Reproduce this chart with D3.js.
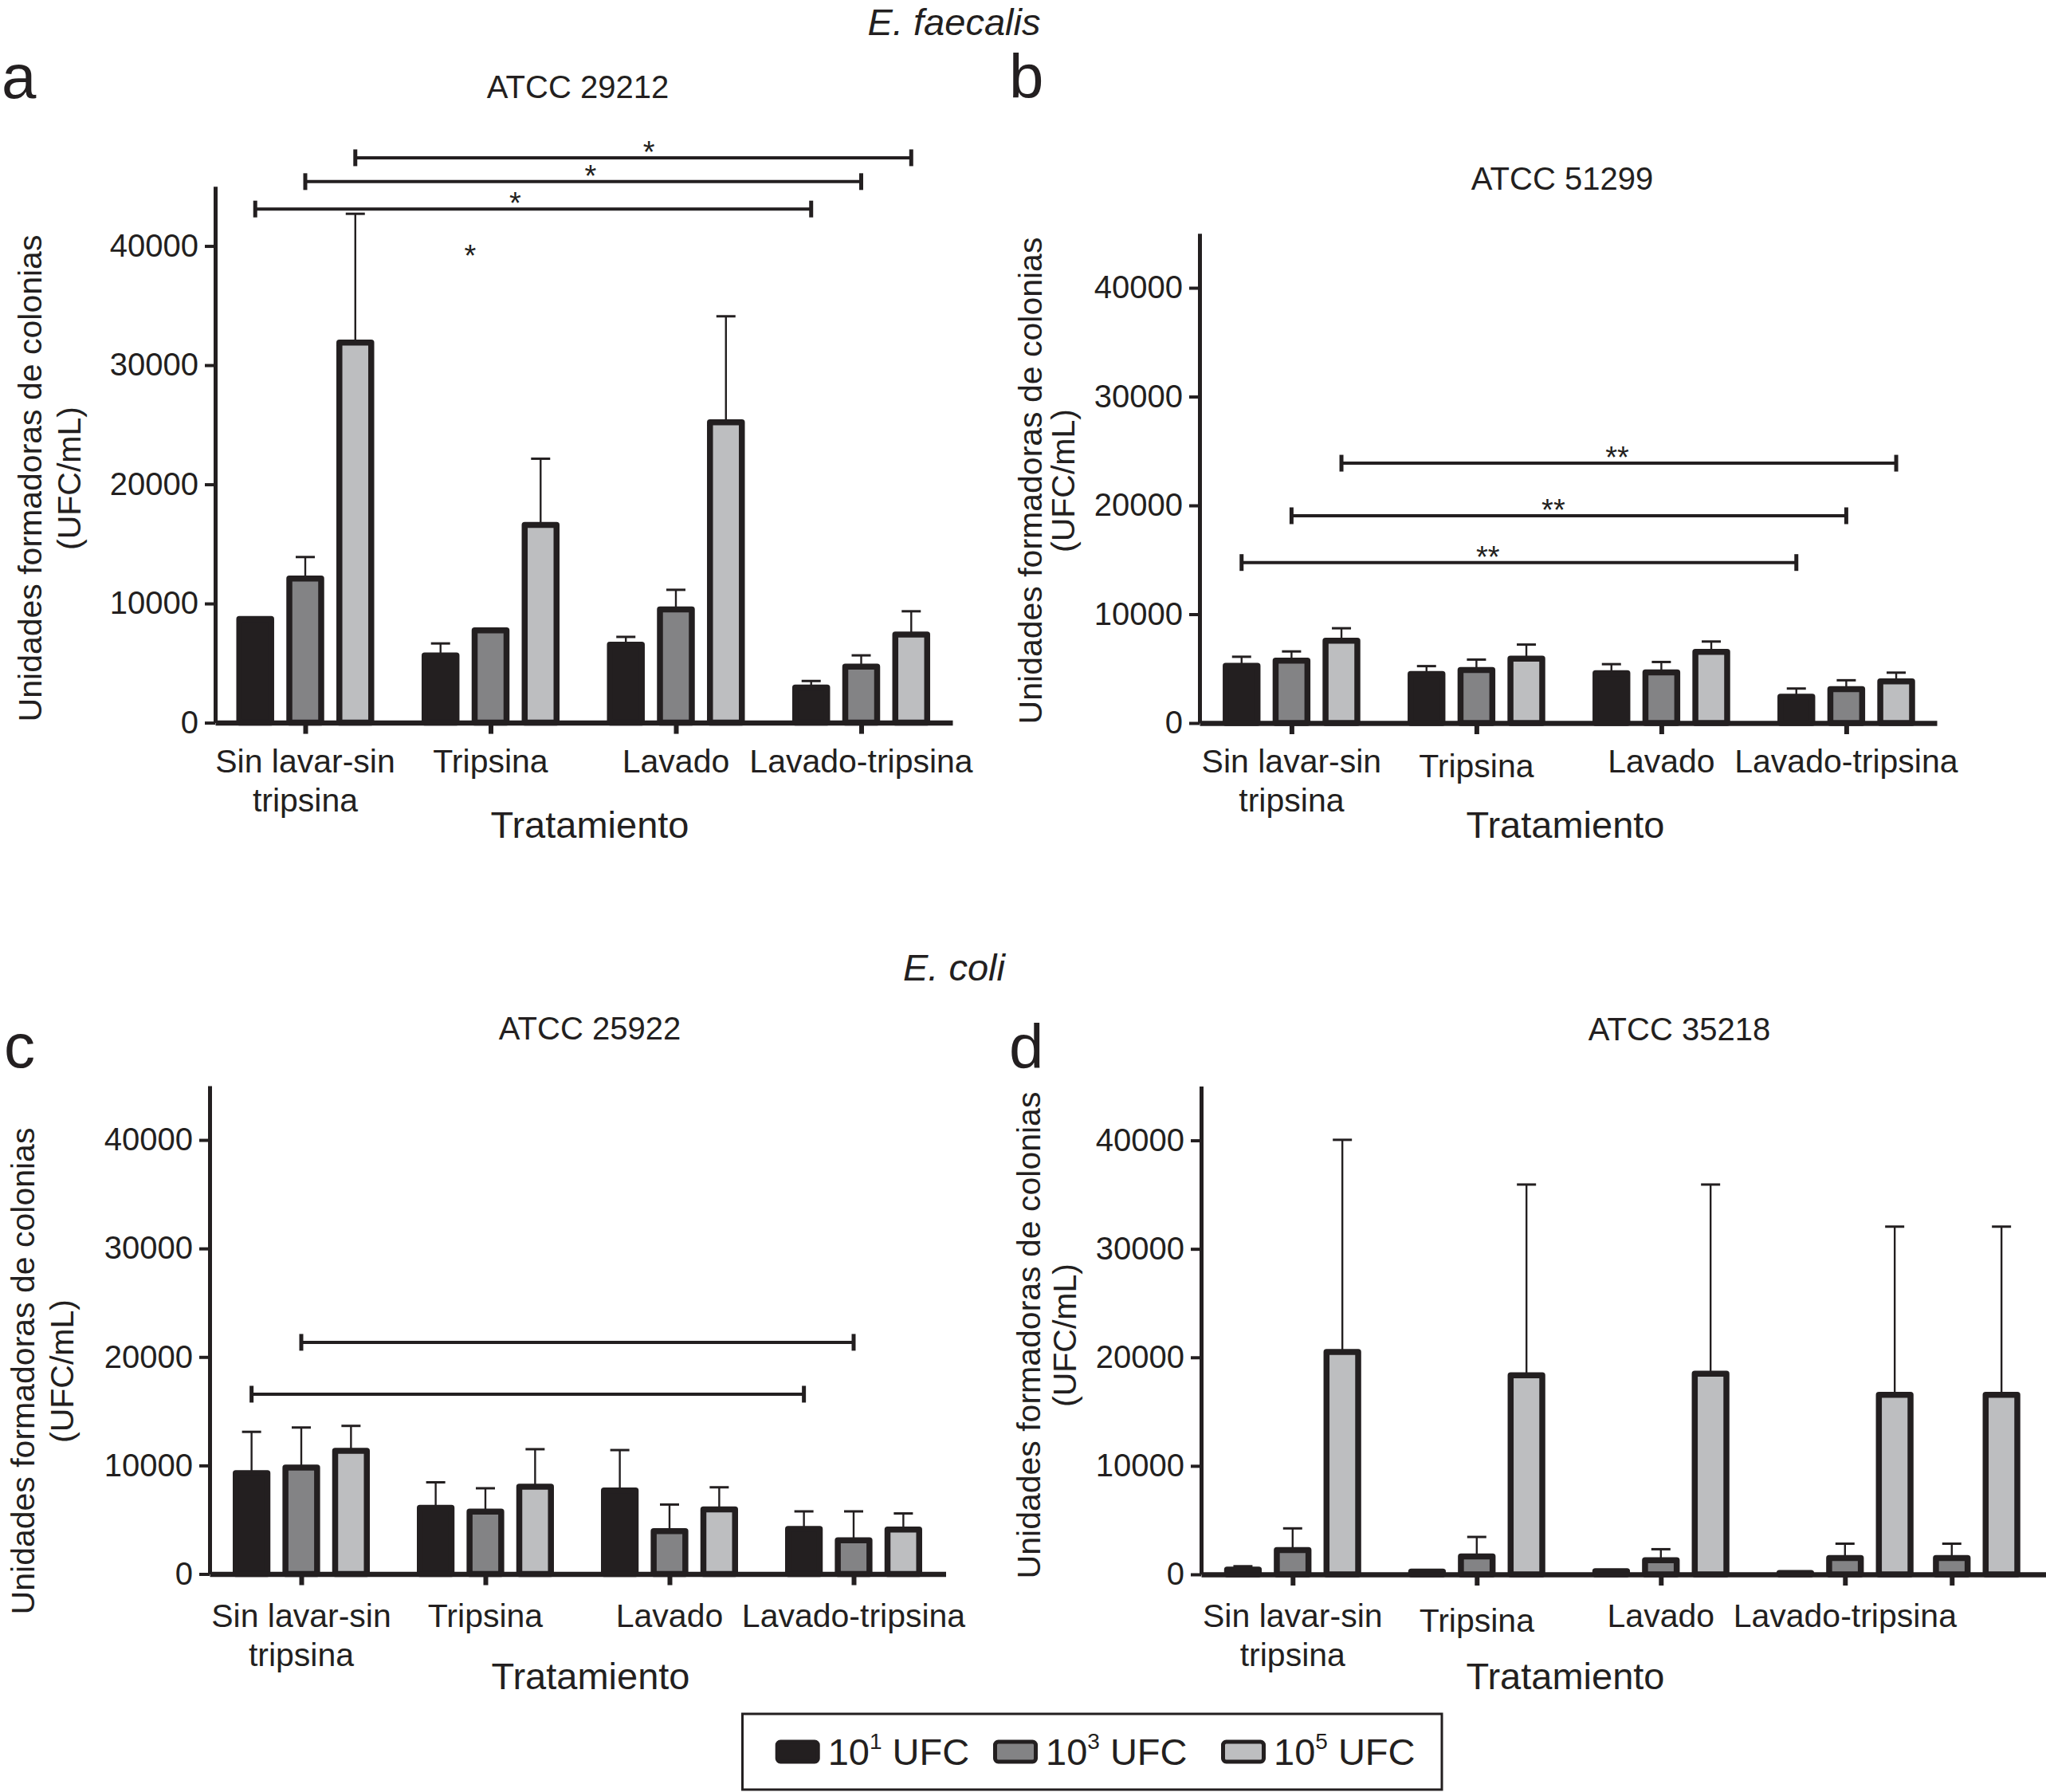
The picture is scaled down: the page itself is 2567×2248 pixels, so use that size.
<!DOCTYPE html>
<html>
<head>
<meta charset="utf-8">
<script src="https://cdn.jsdelivr.net/npm/d3@7"></script>
<style>
  body { margin: 0; background: #fff; overflow: hidden; }
  svg text { font-family: "Liberation Sans", Arial, Helvetica, sans-serif; fill: #231f20; }
</style>
</head>
<body>
<svg id="chart" width="2567" height="2248"></svg>
<script>
'use strict';

// ---- datos ----
const categoryLines = [["Sin lavar-sin", "tripsina"], ["Tripsina"], ["Lavado"], ["Lavado-tripsina"]];
const seriesExponents = ["1", "3", "5"];
const yTicks = [0, 10000, 20000, 30000, 40000];
const yMax = 45000;

// a - ATCC 29212 (media y extremo superior de la barra de error)
const aMean1 = [8700, 5650, 6550, 2950];
const aMean3 = [12100, 7750, 9500, 4700];
const aMean5 = [31900, 16600, 25200, 7400];
const aUpper1 = [8700, 6650, 7200, 3500];
const aUpper3 = [13900, 7750, 11150, 5650];
const aUpper5 = [42700, 22150, 34100, 9350];
const aBrackets = [
    {from: [0, 0], to: [3, 0], value: 43100, label: "*"},
    {from: [0, 1], to: [3, 1], value: 45400, label: "*"},
    {from: [0, 2], to: [3, 2], value: 47400, label: "*"}
];
const aNotes = [{group: 0.89, value: 39500, label: "*"}];

// b - ATCC 51299
const bMean1 = [5250, 4500, 4580, 2420];
const bMean3 = [5740, 4880, 4660, 3120];
const bMean5 = [7570, 5920, 6540, 3820];
const bUpper1 = [6090, 5230, 5410, 3170];
const bUpper3 = [6580, 5830, 5610, 3930];
const bUpper5 = [8710, 7210, 7490, 4630];
const bBrackets = [
    {from: [0, 0], to: [3, 0], value: 14750, label: "**"},
    {from: [0, 1], to: [3, 1], value: 19050, label: "**"},
    {from: [0, 2], to: [3, 2], value: 23880, label: "**"}
];

// c - ATCC 25922
const cMean1 = [9300, 6100, 7700, 4150];
const cMean3 = [9800, 5750, 3950, 3100];
const cMean5 = [11350, 8050, 5950, 4100];
const cUpper1 = [13100, 8450, 11420, 5770];
const cUpper3 = [13500, 7900, 6400, 5770];
const cUpper5 = [13650, 11500, 7990, 5580];
const cBrackets = [
    {from: [0, 0], to: [3, 0], value: 16570, label: ""},
    {from: [0, 1], to: [3, 1], value: 21350, label: ""}
];

// d - ATCC 35218 (el quinto grupo no tiene etiqueta)
const dCategoryLines = [["Sin lavar-sin", "tripsina"], ["Tripsina"], ["Lavado"], ["Lavado-tripsina"], [""]];
const dMean1 = [450, 250, 300, 120, null];
const dMean3 = [2250, 1650, 1300, 1500, 1500];
const dMean5 = [20500, 18350, 18500, 16550, 16550];
const dUpper1 = [750, 330, 380, 120, null];
const dUpper3 = [4240, 3450, 2320, 2830, 2830];
const dUpper5 = [40050, 35930, 35930, 32050, 32050];

// ---- estilo ----
const ink = "#231f20";
const fills = ["#231f20", "#838385", "#bdbec0"];
const barOffset = 0.27;   // en unidades de grupo
const barWidth = 0.172;

const panels = [
    {letter: "a", title: "ATCC 29212", lines: categoryLines, groupIndex: [0, 1, 2, 3],
     means: [aMean1, aMean3, aMean5], uppers: [aUpper1, aUpper3, aUpper5],
     brackets: aBrackets, starAt: [0.4675, 0.513, 0.528], notes: aNotes,
     x0: 270, x1: 1195, g0: 383, step: 232.5, yBase: 906.6, yTop: 233.8,
     labelDy: 62, labelShift: [0, 0, 0, 0],
     titlePos: [725, 123], letterPos: [2, 123], yLab: [52, 101, 600], tratX: 740},
    {letter: "b", title: "ATCC 51299", lines: categoryLines, groupIndex: [0, 1, 2, 3],
     means: [bMean1, bMean3, bMean5], uppers: [bUpper1, bUpper3, bUpper5],
     brackets: bBrackets, starAt: [0.444, 0.472, 0.497], notes: [],
     x0: 1505, x1: 2430, g0: 1620.4, step: 232, yBase: 907, yTop: 292.8,
     labelDy: 62, labelShift: [0, 6, 0, 0],
     titlePos: [1960, 238], letterPos: [1266, 123], yLab: [1307, 1348, 603], tratX: 1964},
    {letter: "c", title: "ATCC 25922", lines: categoryLines, groupIndex: [0, 1, 2, 3],
     means: [cMean1, cMean3, cMean5], uppers: [cUpper1, cUpper3, cUpper5],
     brackets: cBrackets, starAt: [0.5, 0.5], notes: [],
     x0: 263, x1: 1186.5, g0: 378, step: 231, yBase: 1974.5, yTop: 1362,
     labelDy: 66, labelShift: [0, 0, 0, 0],
     titlePos: [740, 1304], letterPos: [5, 1339], yLab: [43, 92, 1720], tratX: 741},
    {letter: "d", title: "ATCC 35218", lines: dCategoryLines, groupIndex: [0, 1, 2, 3, 3.58],
     means: [dMean1, dMean3, dMean5], uppers: [dUpper1, dUpper3, dUpper5],
     brackets: [], starAt: [], notes: [],
     x0: 1507, x1: 2567, g0: 1621.8, step: 231, yBase: 1975, yTop: 1362.5,
     labelDy: 66, labelShift: [0, 6, 0, 0, 0],
     titlePos: [2107, 1305], letterPos: [1266, 1340], yLab: [1305, 1350, 1675], tratX: 1964}
];

const svg = d3.select("#chart");

function drawPanel(p) {
    const g = svg.append("g");
    const y = d3.scaleLinear().domain([0, yMax]).range([p.yBase, p.yTop]);
    const x = d3.scaleLinear().domain([0, 1]).range([p.g0, p.g0 + p.step]);
    const xAxisScale = d3.scaleLinear()
        .domain([x.invert(p.x0), x.invert(p.x1)])
        .range([p.x0, p.x1]);
    const unit = p.step;

    // barras
    const rows = [];
    p.means.forEach((series, si) => {
        series.forEach((v, gi) => {
            if (v === null) return;
            rows.push({gi: gi, si: si, mean: v, upper: p.uppers[si][gi]});
        });
    });
    const cx = d => x(p.groupIndex[d.gi]) + (d.si - 1) * barOffset * unit;

    // barras de error (detrás de las barras)
    const err = rows.filter(d => d.upper > d.mean);
    g.append("g").selectAll("line").data(err).join("line")
        .attr("x1", cx).attr("x2", cx)
        .attr("y1", d => y(d.mean)).attr("y2", d => y(d.upper))
        .attr("stroke", ink).attr("stroke-width", 2.4);
    g.append("g").selectAll("line").data(err).join("line")
        .attr("x1", d => cx(d) - 12).attr("x2", d => cx(d) + 12)
        .attr("y1", d => y(d.upper)).attr("y2", d => y(d.upper))
        .attr("stroke", ink).attr("stroke-width", 3);

    g.append("g").selectAll("rect").data(rows).join("rect")
        .attr("x", d => cx(d) - barWidth * unit / 2)
        .attr("width", barWidth * unit)
        .attr("y", d => y(d.mean))
        .attr("height", d => y(0) - y(d.mean))
        .attr("fill", d => fills[d.si])
        .attr("stroke", ink)
        .attr("stroke-width", 7.5)
        .attr("stroke-linejoin", "round");

    // ejes
    const yAxis = g.append("g")
        .attr("transform", `translate(${p.x0},0)`)
        .call(d3.axisLeft(y).tickValues(yTicks).tickSize(13).tickSizeOuter(0)
            .tickPadding(8).tickFormat(d3.format("d")));
    yAxis.attr("font-size", 40).attr("font-family", null);
    yAxis.select(".domain").attr("stroke", ink).attr("stroke-width", 5);
    yAxis.selectAll(".tick line").attr("stroke", ink).attr("stroke-width", 4);
    yAxis.selectAll(".tick text").attr("fill", ink);

    const xAxis = g.append("g")
        .attr("transform", `translate(0,${p.yBase})`)
        .call(d3.axisBottom(xAxisScale).tickValues(p.groupIndex).tickSize(14)
            .tickSizeOuter(0).tickFormat(""));
    xAxis.select(".domain").attr("stroke", ink).attr("stroke-width", 6.5);
    xAxis.selectAll(".tick line").attr("stroke", ink).attr("stroke-width", 6);

    // etiquetas de categoría
    const labels = g.append("g").selectAll("text").data(p.lines).join("text")
        .attr("text-anchor", "middle")
        .attr("font-size", 41)
        .attr("x", (d, i) => x(p.groupIndex[i]))
        .attr("y", (d, i) => p.yBase + p.labelDy + p.labelShift[i]);
    labels.selectAll("tspan").data(d => d).join("tspan")
        .attr("x", function() { return d3.select(this.parentNode).attr("x"); })
        .attr("dy", (d, i) => i === 0 ? 0 : 49)
        .text(d => d);

    g.append("text")
        .attr("x", p.tratX).attr("y", p.yBase + 144)
        .attr("text-anchor", "middle").attr("font-size", 47)
        .text("Tratamiento");

    // título del eje Y
    const yl = g.append("g")
        .attr("transform", `translate(${p.yLab[0]},${p.yLab[2]}) rotate(-90)`);
    yl.append("text").attr("text-anchor", "middle").attr("font-size", 41)
        .text("Unidades formadoras de colonias");
    yl.append("text").attr("text-anchor", "middle").attr("font-size", 41)
        .attr("y", p.yLab[1] - p.yLab[0])
        .text("(UFC/mL)");

    // título y letra del panel
    g.append("text").attr("x", p.titlePos[0]).attr("y", p.titlePos[1])
        .attr("text-anchor", "middle").attr("font-size", 40).text(p.title);
    g.append("text").attr("x", p.letterPos[0]).attr("y", p.letterPos[1])
        .attr("font-size", 78).text(p.letter);

    // corchetes de significancia
    const bx = (gi, si) => x(p.groupIndex[gi]) + (si - 1) * barOffset * unit;
    p.brackets.forEach((b, k) => {
        const xa = bx(b.from[0], b.from[1]);
        const xb = bx(b.to[0], b.to[1]);
        const yy = y(b.value);
        const bg = g.append("g").attr("stroke", ink);
        bg.append("line").attr("x1", xa).attr("x2", xb).attr("y1", yy).attr("y2", yy)
            .attr("stroke-width", 4);
        bg.selectAll("line.end").data([xa, xb]).join("line").attr("class", "end")
            .attr("x1", d => d).attr("x2", d => d)
            .attr("y1", yy - 10.5).attr("y2", yy + 10.5)
            .attr("stroke-width", 5);
        if (b.label) {
            g.append("text")
                .attr("x", xa + (xb - xa) * p.starAt[k])
                .attr("y", yy + 6)
                .attr("text-anchor", "middle").attr("font-size", 38)
                .text(b.label);
        }
    });
    p.notes.forEach(n => {
        g.append("text")
            .attr("x", x(n.group)).attr("y", y(n.value) + 18)
            .attr("text-anchor", "middle").attr("font-size", 38)
            .text(n.label);
    });
}

panels.forEach(drawPanel);

// nombres de especie
svg.append("text").attr("x", 1197).attr("y", 44).attr("text-anchor", "middle")
    .attr("font-size", 47).attr("font-style", "italic").text("E. faecalis");
svg.append("text").attr("x", 1197).attr("y", 1230).attr("text-anchor", "middle")
    .attr("font-size", 47).attr("font-style", "italic").text("E. coli");

// leyenda
const legend = svg.append("g");
legend.append("rect")
    .attr("x", 931.5).attr("y", 2150).attr("width", 877.5).attr("height", 95)
    .attr("fill", "#fff").attr("stroke", ink).attr("stroke-width", 3);
const legendX = [972.7, 1246, 1532];
const items = legend.selectAll("g.item").data(seriesExponents).join("g")
    .attr("class", "item")
    .attr("transform", (d, i) => `translate(${legendX[i]},0)`);
items.append("rect")
    .attr("x", 2.5).attr("y", 2185).attr("width", 51).attr("height", 25)
    .attr("rx", 4)
    .attr("fill", (d, i) => fills[i]).attr("stroke", ink).attr("stroke-width", 5);
const lt = items.append("text").attr("x", 66).attr("y", 2214).attr("font-size", 47);
lt.append("tspan").text("10");
lt.append("tspan").attr("font-size", 28).attr("dy", -20).text(d => d);
lt.append("tspan").attr("dy", 20).text(" UFC");
</script>
</body>
</html>
